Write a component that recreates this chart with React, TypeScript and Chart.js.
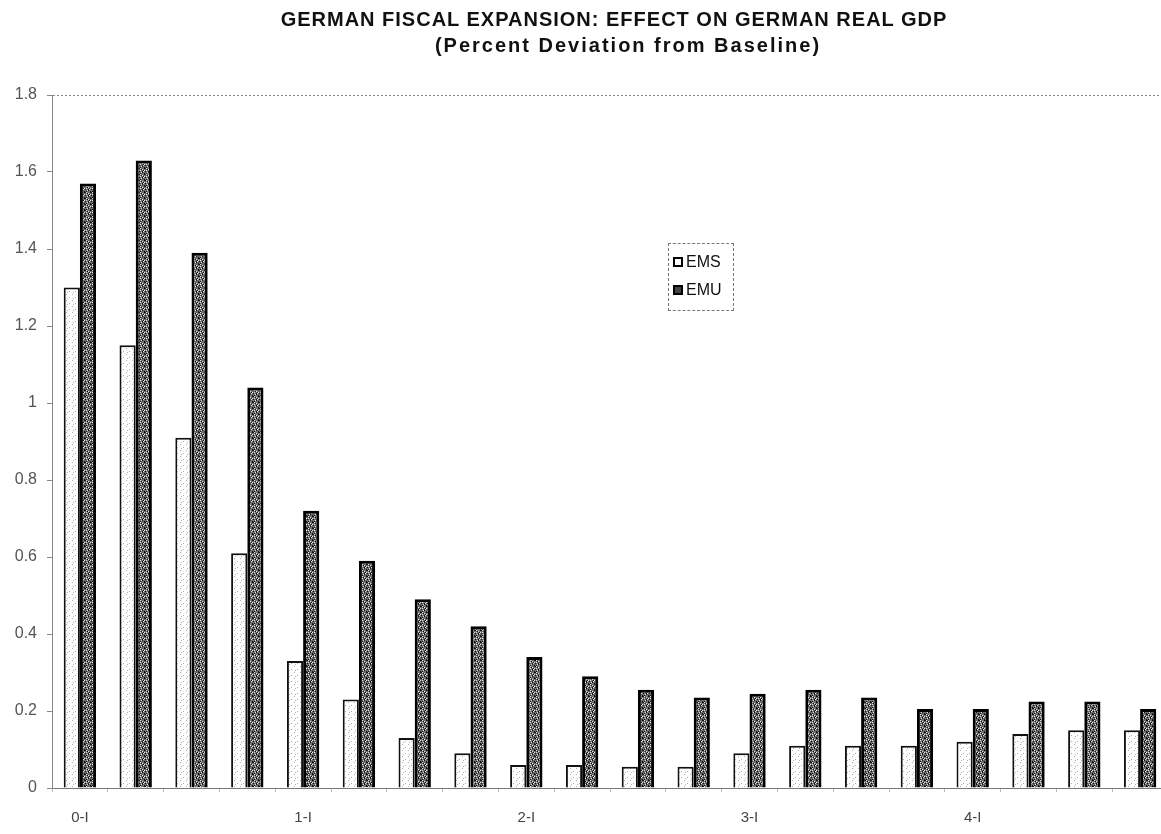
import React, { useEffect, useRef } from "react";
import { Chart, registerables } from "chart.js";

Chart.register(...registerables);

const categories: string[] = [
  "0-I", "0-II", "0-III", "0-IV",
  "1-I", "1-II", "1-III", "1-IV",
  "2-I", "2-II", "2-III", "2-IV",
  "3-I", "3-II", "3-III", "3-IV",
  "4-I", "4-II", "4-III", "4-IV",
];

const emsValues: number[] = [
  1.30, 1.15, 0.91, 0.61, 0.33, 0.23, 0.13, 0.09, 0.06, 0.06,
  0.055, 0.055, 0.09, 0.11, 0.11, 0.11, 0.12, 0.14, 0.15, 0.15,
];

const emuValues: number[] = [
  1.57, 1.63, 1.39, 1.04, 0.72, 0.59, 0.49, 0.42, 0.34, 0.29,
  0.255, 0.235, 0.245, 0.255, 0.235, 0.205, 0.205, 0.225, 0.225, 0.205,
];

const yTicks: number[] = [0, 0.2, 0.4, 0.6, 0.8, 1, 1.2, 1.4, 1.6, 1.8];

function makePattern(base: string, dark: number[][], darkColor: string, light: number[][], lightColor: string): CanvasPattern | string {
  const c = document.createElement("canvas");
  c.width = 6;
  c.height = 6;
  const g = c.getContext("2d");
  if (!g) return base;
  g.fillStyle = base;
  g.fillRect(0, 0, 6, 6);
  g.fillStyle = darkColor;
  dark.forEach(([x, y]) => g.fillRect(x, y, 1, 1));
  g.fillStyle = lightColor;
  light.forEach(([x, y]) => g.fillRect(x, y, 1, 1));
  const p = g.createPattern(c, "repeat");
  return p || base;
}

export default function App() {
  const canvasRef = useRef<HTMLCanvasElement | null>(null);

  useEffect(() => {
    if (!canvasRef.current) return;
    const emuFill = makePattern(
      "#6e6e6e",
      [[0, 0], [3, 1], [1, 3], [4, 4], [2, 5], [5, 2], [1, 0], [4, 3], [0, 5]],
      "#111111",
      [[2, 0], [5, 3], [0, 2], [3, 4], [4, 1], [2, 2]],
      "#e4e4e4"
    );
    const emsFill = makePattern(
      "#fdfdfd",
      [[0, 0], [3, 3], [1, 4]],
      "#b0b0b0",
      [],
      "#ffffff"
    );
    const chart = new Chart(canvasRef.current, {
      type: "bar",
      data: {
        labels: categories,
        datasets: [
          {
            label: "EMS",
            data: emsValues,
            backgroundColor: emsFill as any,
            borderColor: "#111",
            borderWidth: 2,
            barPercentage: 1,
            categoryPercentage: 0.58,
          },
          {
            label: "EMU",
            data: emuValues,
            backgroundColor: emuFill as any,
            borderColor: "#000",
            borderWidth: 3,
            barPercentage: 1,
            categoryPercentage: 0.58,
          },
        ],
      },
      options: {
        animation: false,
        responsive: true,
        maintainAspectRatio: false,
        layout: { padding: { top: 95, right: 7, left: 0, bottom: 0 } },
        plugins: {
          legend: { display: false },
          tooltip: { enabled: false },
          title: { display: false },
        },
        scales: {
          x: {
            offset: true,
            afterFit: (s: any) => { s.height = 46; },
            grid: {
              offset: true,
              drawOnChartArea: false,
              tickLength: 4,
              color: "#bbbbbb",
            },
            border: { color: "#777", dash: [2, 2], width: 1 },
            ticks: {
              autoSkip: false,
              maxRotation: 0,
              padding: 17,
              color: "#444",
              font: { family: "Liberation Sans", size: 15 },
              callback: (_v: any, i: number) => (categories[i].endsWith("-I") ? categories[i] : ""),
            },
          },
          y: {
            min: 0,
            max: 1.8,
            afterFit: (s: any) => { s.width = 52; },
            afterBuildTicks: (s: any) => { s.ticks = yTicks.map((v) => ({ value: v })); },
            grid: {
              color: (ctx: any) => (ctx.tick && ctx.tick.value === 1.8 ? "#888" : "rgba(0,0,0,0)"),
              tickColor: "#888",
              tickLength: 5,
              lineWidth: 1,
            },
            border: { color: "#888", dash: [2, 2], width: 1 },
            ticks: {
              padding: 10,
              color: "#555",
              font: { family: "Liberation Sans", size: 16 },
              callback: (v: any) => String(Math.round(Number(v) * 10) / 10),
            },
          },
        },
      },
    });
    return () => chart.destroy();
  }, []);

  const legendItem = (label: string, marker: React.CSSProperties) => (
    <div style={{ display: "flex", alignItems: "center", height: 28 }}>
      <span style={{ display: "inline-block", width: 10, height: 10, marginRight: 3, ...marker }} />
      <span>{label}</span>
    </div>
  );

  return (
    <div
      style={{
        position: "fixed",
        left: 0,
        top: 0,
        width: 1175,
        height: 834,
        background: "#fff",
        fontFamily: "Liberation Sans, Arial, sans-serif",
      }}
    >
      <div style={{ position: "absolute", left: 0, width: 1228, top: 8, textAlign: "center", fontWeight: "bold", fontSize: 20, letterSpacing: 1, color: "#111", whiteSpace: "nowrap" }}>
        GERMAN FISCAL EXPANSION: EFFECT ON GERMAN REAL GDP
      </div>
      <div style={{ position: "absolute", left: 0, width: 1256, top: 34, textAlign: "center", fontWeight: "bold", fontSize: 20, letterSpacing: 2, color: "#111", whiteSpace: "nowrap" }}>
        (Percent Deviation from Baseline)
      </div>
      <canvas ref={canvasRef} style={{ position: "absolute", left: 0, top: 0, width: 1175, height: 834 }} />
      <div
        style={{
          position: "absolute",
          left: 668,
          top: 243,
          width: 66,
          height: 68,
          border: "1px dashed #777",
          padding: "4px 0 0 4px",
          boxSizing: "border-box",
          fontSize: 16,
          color: "#111",
        }}
      >
        {legendItem("EMS", { background: "#fff", border: "2px solid #000", boxSizing: "border-box" })}
        {legendItem("EMU", { background: "#444", border: "2px solid #000", boxSizing: "border-box" })}
      </div>
    </div>
  );
}
